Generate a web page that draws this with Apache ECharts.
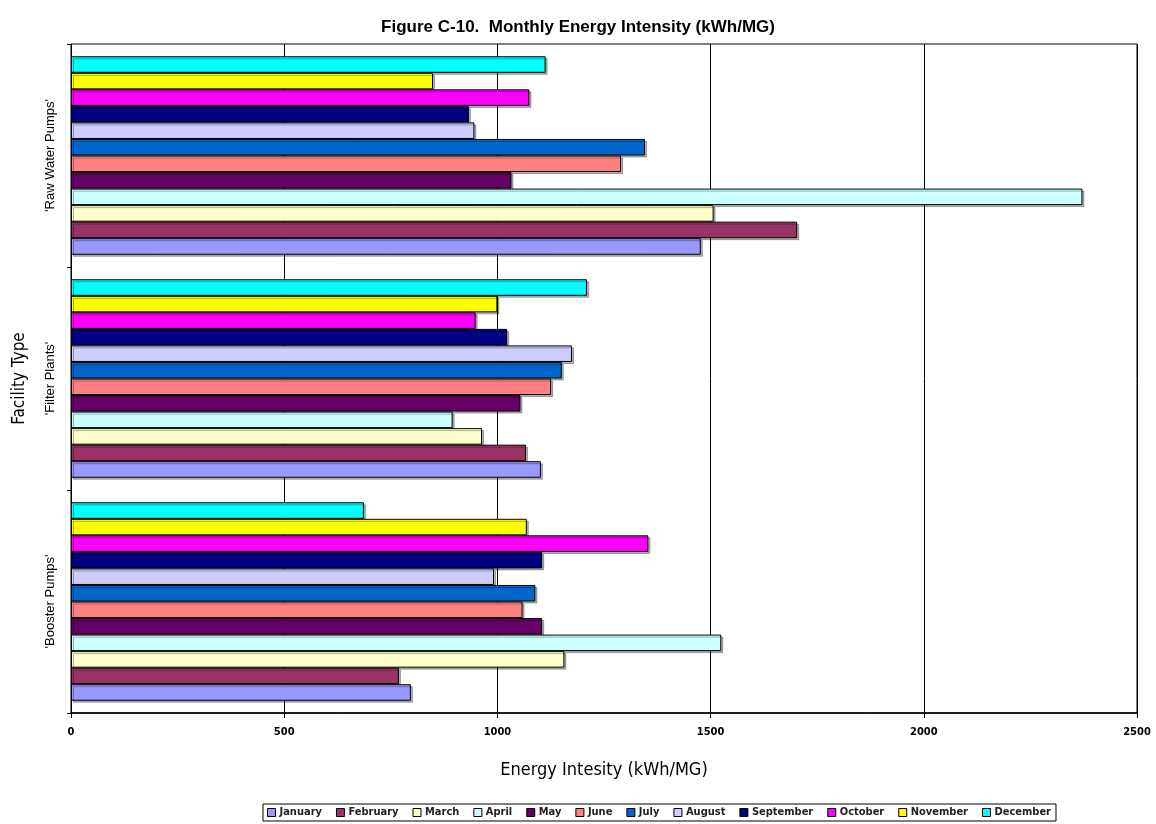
<!DOCTYPE html>
<html>
<head>
<meta charset="utf-8">
<script src="https://cdn.jsdelivr.net/npm/echarts@6/dist/echarts.min.js"></script>
<style>html,body{margin:0;padding:0;background:#fff}#c{width:1156px;height:824px}</style>
</head>
<body>
<div id="c"></div>
<script>
const categories = ["'Booster Pumps'", "'Filter Plants'", "'Raw Water Pumps'"];
const months = ['January','February','March','April','May','June','July','August','September','October','November','December'];
const colors = ['#9999FF','#993366','#FFFFCC','#CCFFFF','#660066','#FF8080','#0066CC','#CCCCFF','#000080','#FF00FF','#FFFF00','#00FFFF'];
// values per month: [Booster Pumps, Filter Plants, Raw Water Pumps]
const january   = [797, 1102, 1477];
const february  = [769, 1067, 1703];
const march     = [1157, 964, 1507];
const april     = [1525, 895, 2372];
const may       = [1105, 1054, 1033];
const june      = [1059, 1126, 1290];
const july      = [1089, 1151, 1346];
const august    = [992, 1175, 946];
const september = [1105, 1023, 933];
const october   = [1354, 949, 1075];
const november  = [1069, 1000, 849];
const december  = [687, 1210, 1113];
const xTicks = [0, 500, 1000, 1500, 2000, 2500];

const monthData = [january, february, march, april, may, june, july, august, september, october, november, december];

const series = [];
for (let i = months.length - 1; i >= 0; i--) {
  series.push({
    name: months[i],
    type: 'bar',
    data: monthData[i],
    barGap: '0%',
    barCategoryGap: '11%',
    itemStyle: {
      color: colors[i],
      borderColor: '#000',
      borderWidth: 1,
      shadowColor: 'rgba(0,0,0,0.3)',
      shadowOffsetX: 2,
      shadowOffsetY: 2,
      shadowBlur: 0
    },
    emphasis: {disabled: true},
    animation: false
  });
}

const chart = echarts.init(document.getElementById('c'), null, {renderer: 'canvas'});
chart.setOption({
  backgroundColor: '#fff',
  animation: false,
  title: {
    text: 'Figure C-10.  Monthly Energy Intensity (kWh/MG)',
    left: 'center',
    top: 14,
    textStyle: {fontFamily: 'Liberation Sans, Arial', fontSize: 17, fontWeight: 'bold', color: '#000'}
  },
  grid: {left: 71, right: 19, top: 44, bottom: 111, show: true, borderColor: '#000', borderWidth: 1, backgroundColor: 'transparent'},
  legend: {
    data: months,
    bottom: 3,
    left: 263,
    itemWidth: 8,
    itemHeight: 8,
    itemGap: 14,
    icon: 'rect',
    borderColor: '#000',
    borderWidth: 1,
    padding: [3, 5, 3, 4],
    textStyle: {fontFamily: 'DejaVu Sans Condensed, sans-serif', fontSize: 11, fontWeight: 'bold', color: '#222', padding: [0, 0, 0, -1]},
    itemStyle: {borderColor: '#000', borderWidth: 1}
  },
  xAxis: {
    type: 'value',
    min: 0,
    max: 2500,
    interval: 500,
    name: 'Energy Intesity (kWh/MG)',
    nameLocation: 'middle',
    nameGap: 48,
    nameTextStyle: {fontFamily: 'DejaVu Sans Condensed, sans-serif', fontSize: 18, color: '#000'},
    axisLine: {show: true, lineStyle: {color: '#000', width: 1.5}},
    axisTick: {show: true, length: 5, lineStyle: {color: '#000'}},
    axisLabel: {
      fontFamily: 'DejaVu Sans Condensed, sans-serif', fontSize: 11, fontWeight: 'bold', color: '#000', margin: 14,
      formatter: function (v) { return xTicks.indexOf(v) >= 0 ? String(v) : ''; }
    },
    splitLine: {show: true, lineStyle: {color: '#000', width: 1}}
  },
  yAxis: {
    type: 'category',
    data: categories,
    name: 'Facility Type',
    nameLocation: 'middle',
    nameGap: 43,
    nameRotate: 90,
    nameTextStyle: {fontFamily: 'DejaVu Sans Condensed, sans-serif', fontSize: 17, color: '#000'},
    axisLine: {show: true, lineStyle: {color: '#000', width: 1}},
    axisTick: {show: true, length: 4, lineStyle: {color: '#000'}},
    axisLabel: {rotate: 90, fontFamily: 'Liberation Sans, Arial', fontSize: 13, color: '#000', margin: 14},
    splitLine: {show: false}
  },
  series: series
});
</script>
</body>
</html>
